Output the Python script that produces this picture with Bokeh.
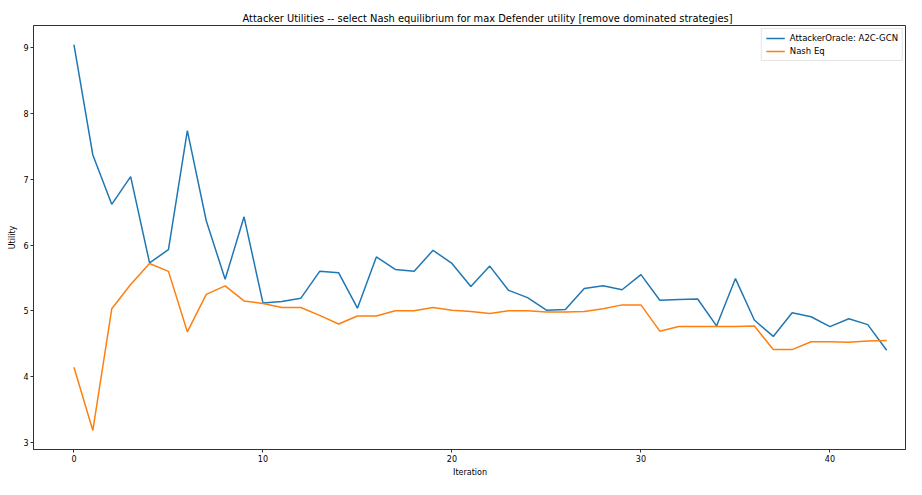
from bokeh.plotting import figure
from bokeh.models import Range1d, FixedTicker, Legend, LegendItem
from bokeh.embed import file_html
from bokeh.resources import INLINE

iterations = list(range(44))
attacker_oracle = [9.05, 7.37, 6.62, 7.04, 5.73, 5.93, 7.74, 6.37, 5.48, 6.43,
                   5.12, 5.14, 5.19, 5.60, 5.58, 5.04, 5.82, 5.63, 5.60, 5.92,
                   5.72, 5.37, 5.68, 5.31, 5.20, 5.01, 5.02, 5.34, 5.38, 5.32,
                   5.55, 5.16, 5.17, 5.18, 4.77, 5.49, 4.86, 4.61, 4.97, 4.91,
                   4.76, 4.88, 4.79, 4.40]
nash_eq = [4.14, 3.18, 5.03, 5.40, 5.72, 5.60, 4.68, 5.25, 5.38, 5.15,
           5.11, 5.05, 5.05, 4.93, 4.80, 4.92, 4.92, 5.00, 5.00, 5.05,
           5.01, 4.99, 4.96, 5.00, 5.00, 4.98, 4.98, 4.99, 5.03, 5.09,
           5.09, 4.69, 4.76, 4.76, 4.76, 4.76, 4.77, 4.41, 4.41, 4.53,
           4.53, 4.52, 4.54, 4.55]
x_ticks = [0, 10, 20, 30, 40]
y_ticks = [3, 4, 5, 6, 7, 8, 9]

FONT = "DejaVu Sans"

p = figure(width=906, height=479, output_backend="svg", toolbar_location=None,
           x_range=Range1d(-2.14, 44.05), y_range=Range1d(2.89, 9.34),
           title="Attacker Utilities -- select Nash equilibrium for max Defender utility [remove dominated strategies]",
           min_border_left=33, min_border_right=0, min_border_top=25, min_border_bottom=0)

p.title.align = "left"
p.title.text_font = FONT
p.title.text_font_size = "9.9px"
p.title.text_font_style = "normal"
p.title.text_color = "black"
p.title.standoff = 3
p.title.offset = 209

p.xgrid.visible = False
p.ygrid.visible = False
p.outline_line_color = "#333333"
p.outline_line_width = 1

for ax in (p.xaxis[0], p.yaxis[0]):
    ax.major_label_text_font = FONT
    ax.major_label_text_font_size = "8px"
    ax.major_label_text_color = "black"
    ax.axis_label_text_font = FONT
    ax.axis_label_text_font_size = "8px"
    ax.axis_label_text_font_style = "normal"
    ax.axis_label_text_color = "black"
    ax.minor_tick_line_color = None
    ax.major_tick_out = 3
    ax.major_tick_in = 0
    ax.major_tick_line_color = "#333333"
    ax.major_label_standoff = 2
    ax.axis_label_standoff = 3
    ax.axis_line_color = "#333333"

p.xaxis.ticker = FixedTicker(ticks=x_ticks)
p.yaxis.ticker = FixedTicker(ticks=y_ticks)
p.xaxis.axis_label = "Iteration"
p.yaxis.axis_label = "Utility"

r1 = p.line(iterations, attacker_oracle, line_color="#1f77b4", line_width=1.5)
r2 = p.line(iterations, nash_eq, line_color="#ff7f0e", line_width=1.5)

legend = Legend(items=[LegendItem(label="AttackerOracle: A2C-GCN", renderers=[r1]),
                       LegendItem(label="Nash Eq", renderers=[r2])],
                location="top_right")
legend.label_text_font = FONT
legend.label_text_font_size = "8.5px"
legend.label_text_color = "black"
legend.glyph_width = 19
legend.glyph_height = 10
legend.label_height = 10
legend.spacing = 3
legend.padding = 4
legend.margin = 3
legend.label_standoff = 5
legend.border_line_color = "#cccccc"
legend.border_line_width = 1
legend.background_fill_alpha = 0.8
p.add_layout(legend)

open("out.html", "w").write(file_html(p, INLINE))
